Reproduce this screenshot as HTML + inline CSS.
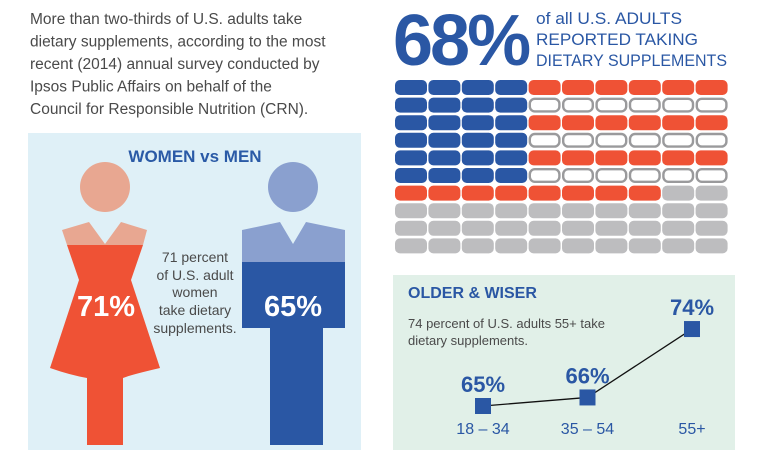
<!DOCTYPE html>
<html><head><meta charset="utf-8"><style>
body{margin:0;width:761px;height:457px;background:#fff;overflow:hidden;font-family:"Liberation Sans",sans-serif}
</style></head><body>
<svg width="761" height="457" viewBox="0 0 761 457" xmlns="http://www.w3.org/2000/svg">
<g font-size="15.5" fill="#4a4a4a">
<text x="30" y="24">More than two-thirds of U.S. adults take</text>
<text x="30" y="46.5">dietary supplements, according to the most</text>
<text x="30" y="69">recent (2014) annual survey conducted by</text>
<text x="30" y="91.5">Ipsos Public Affairs on behalf of the</text>
<text x="30" y="114">Council for Responsible Nutrition (CRN).</text>
</g>
<rect x="28" y="133" width="333" height="317" fill="#dff0f7"/>
<text x="195" y="162" text-anchor="middle" font-size="17" font-weight="bold" fill="#2a5aa6">WOMEN vs MEN</text>
<g>
<circle cx="105" cy="187" r="25" fill="#e8a791"/>
<polygon points="62,230 89,222 105,244 121,222 147,230 143,245 67,245" fill="#e8a791"/>
<path d="M67,245 L143,245 L131,280 L160,368 Q130,375 123,378 L123,445 L87,445 L87,378 Q70,375 50,368 L79,280 Z" fill="#ef5235"/>
<text x="106" y="316" text-anchor="middle" font-size="29" font-weight="bold" fill="#fff">71%</text>
</g>
<g>
<circle cx="293" cy="187" r="25" fill="#8aa0cf"/>
<polygon points="242,230 280,222 293,244 306,222 345,230 345,262 242,262" fill="#8aa0cf"/>
<path d="M242,262 L345,262 L345,328 L323,328 L323,445 L270,445 L270,328 L242,328 Z" fill="#2a57a4"/>
<text x="293" y="316" text-anchor="middle" font-size="29" font-weight="bold" fill="#fff">65%</text>
</g>
<g font-size="14" fill="#4a4a4a" text-anchor="middle">
<text x="195" y="262">71 percent</text>
<text x="195" y="280">of U.S. adult</text>
<text x="195" y="297">women</text>
<text x="195" y="315">take dietary</text>
<text x="195" y="333">supplements.</text>
</g>
<text x="393" y="65" font-size="72" font-weight="bold" fill="#2a57a4" letter-spacing="-3">68%</text>
<g font-size="17" fill="#2a57a4">
<text x="536" y="24" textLength="146" lengthAdjust="spacingAndGlyphs">of all U.S. ADULTS</text>
<text x="536" y="45" textLength="162" lengthAdjust="spacingAndGlyphs">REPORTED TAKING</text>
<text x="536" y="66" textLength="191" lengthAdjust="spacingAndGlyphs">DIETARY SUPPLEMENTS</text>
</g>
<g id="grid"></g>
<rect x="393" y="275" width="342" height="175" fill="#e1f0e8"/>
<text x="408" y="298" font-size="16" font-weight="bold" fill="#2a57a4">OLDER &amp; WISER</text>
<g font-size="13" fill="#4a4a4a">
<text x="408" y="328">74 percent of U.S. adults 55+ take</text>
<text x="408" y="345">dietary supplements.</text>
</g>
<g id="chart"></g>
</svg>
<script>
const gridRows = [
 ["b","b","b","b","r","r","r","r","r","r"],
 ["b","b","b","b","w","w","w","w","w","w"],
 ["b","b","b","b","r","r","r","r","r","r"],
 ["b","b","b","b","w","w","w","w","w","w"],
 ["b","b","b","b","r","r","r","r","r","r"],
 ["b","b","b","b","w","w","w","w","w","w"],
 ["r","r","r","r","r","r","r","r","g","g"],
 ["g","g","g","g","g","g","g","g","g","g"],
 ["g","g","g","g","g","g","g","g","g","g"],
 ["g","g","g","g","g","g","g","g","g","g"]
];
const ageGroups = ["18 – 34","35 – 54","55+"];
const ageValues = [65,66,74];
const NS="http://www.w3.org/2000/svg";
const grid=document.getElementById('grid');
gridRows.forEach((row,r)=>row.forEach((c,i)=>{
  const el=document.createElementNS(NS,'rect');
  const x=395+i*33.4, y=80+r*17.6;
  el.setAttribute('x',c==='w'?x+1.2:x);el.setAttribute('y',c==='w'?y+1.2:y);
  el.setAttribute('width',c==='w'?29.6:32);el.setAttribute('height',c==='w'?12.6:15);
  el.setAttribute('rx',5);
  const fills={b:'#2a57a4',r:'#ef5235',g:'#bdbdbf',w:'#fff'};
  el.setAttribute('fill',fills[c]);
  if(c==='w'){el.setAttribute('stroke','#9a9a9c');el.setAttribute('stroke-width','2.4');}
  
  
  grid.appendChild(el);
}));
const chart=document.getElementById('chart');
const xPos=i=>483+i*104.5;
const yPos=v=>406-(v-65)*8.55;
const line=document.createElementNS(NS,'polyline');
line.setAttribute('points',ageValues.map((v,i)=>xPos(i)+','+yPos(v)).join(' '));
line.setAttribute('fill','none');line.setAttribute('stroke','#111');line.setAttribute('stroke-width','1.3');


chart.appendChild(line);
ageValues.forEach((v,i)=>{
  const m=document.createElementNS(NS,'rect');
  m.setAttribute('x',xPos(i)-8);m.setAttribute('y',yPos(v)-8);m.setAttribute('width',16);m.setAttribute('height',16);
  m.setAttribute('fill','#2a57a4');
  
  
  chart.appendChild(m);
  const t=document.createElementNS(NS,'text');
  t.setAttribute('x',xPos(i));t.setAttribute('y',yPos(v)-14);t.setAttribute('text-anchor','middle');
  t.setAttribute('font-size','22');t.setAttribute('font-weight','bold');t.setAttribute('fill','#2a57a4');
  t.textContent=v+'%';
  
  
  chart.appendChild(t);
  const l=document.createElementNS(NS,'text');
  l.setAttribute('x',xPos(i));l.setAttribute('y',434);l.setAttribute('text-anchor','middle');
  l.setAttribute('font-size','16');l.setAttribute('fill','#2a57a4');
  l.textContent=ageGroups[i];
  
  
  chart.appendChild(l);
});
</script>
</body></html>
